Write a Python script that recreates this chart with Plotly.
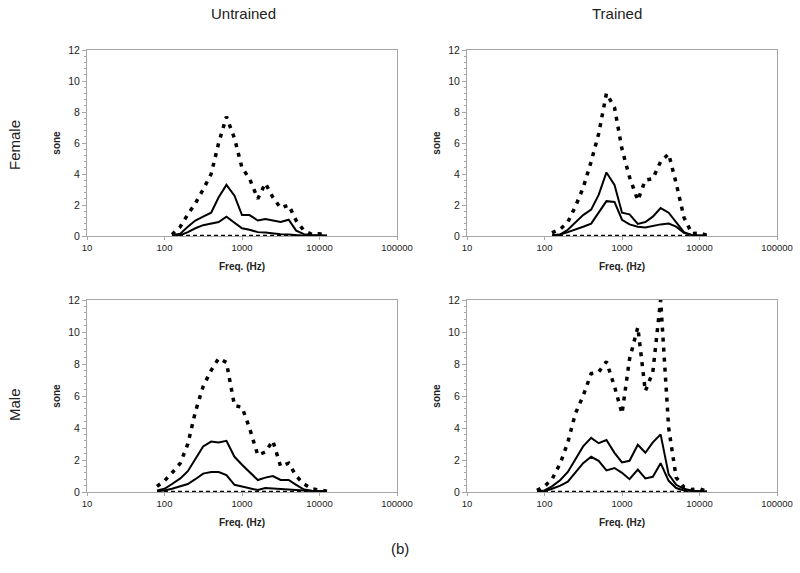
import plotly.graph_objects as go

# Third-octave band centre frequencies (Hz)
freq_f = [125, 160, 200, 250, 315, 400, 500, 630, 800, 1000, 1250, 1600, 2000,
          2500, 3150, 4000, 5000, 6300, 8000, 10000, 12500]
freq_m = [80, 100] + freq_f

# Female, untrained
fu_max = [0.1, 0.6, 1.4, 2.1, 3.0, 4.0, 6.0, 7.7, 6.3, 4.4, 3.7, 2.4, 3.4, 2.5, 1.8, 2.0, 1.0, 0.35, 0.1, 0.15, 0.05]
fu_hi  = [0.05, 0.15, 0.6, 1.0, 1.25, 1.5, 2.5, 3.3, 2.6, 1.35, 1.35, 1.0, 1.1, 1.0, 0.9, 1.05, 0.35, 0.12, 0.05, 0.05, 0.03]
fu_lo  = [0.0, 0.05, 0.25, 0.5, 0.7, 0.8, 0.9, 1.25, 0.85, 0.5, 0.4, 0.25, 0.22, 0.15, 0.12, 0.1, 0.05, 0.02, 0.01, 0.01, 0.0]
fu_min = [0.03] * 21

# Female, trained
ft_max = [0.2, 0.45, 0.9, 1.9, 3.1, 4.8, 6.6, 9.2, 8.3, 5.6, 3.8, 2.3, 3.6, 3.7, 4.8, 5.3, 3.4, 1.2, 0.15, 0.2, 0.05]
ft_hi  = [0.05, 0.1, 0.4, 0.9, 1.35, 1.7, 2.65, 4.1, 3.3, 1.5, 1.4, 0.78, 0.9, 1.25, 1.8, 1.5, 0.85, 0.25, 0.05, 0.03, 0.02]
ft_lo  = [0.02, 0.1, 0.25, 0.4, 0.6, 0.8, 1.5, 2.25, 2.2, 1.05, 0.75, 0.6, 0.55, 0.65, 0.75, 0.8, 0.6, 0.2, 0.05, 0.02, 0.0]
ft_min = [0.03] * 21

# Male, untrained
mu_max = [0.35, 0.7, 1.2, 1.8, 3.0, 5.0, 6.6, 7.6, 8.35, 8.1, 5.4, 5.3, 4.0, 2.3, 2.5, 3.2, 1.6, 1.8, 1.0, 0.5, 0.2, 0.1, 0.05]
mu_hi  = [0.1, 0.2, 0.5, 0.85, 1.3, 2.1, 2.85, 3.15, 3.1, 3.2, 2.2, 1.7, 1.25, 0.75, 0.9, 1.0, 0.75, 0.75, 0.45, 0.15, 0.08, 0.05, 0.05]
mu_lo  = [0.05, 0.1, 0.2, 0.35, 0.5, 0.8, 1.15, 1.25, 1.25, 1.05, 0.45, 0.35, 0.25, 0.12, 0.25, 0.22, 0.15, 0.15, 0.1, 0.05, 0.02, 0.01, 0.0]
mu_min = [0.03] * 23

# Male, trained
mt_max = [0.1, 0.35, 0.8, 1.8, 3.1, 4.9, 6.0, 7.4, 7.5, 8.15, 6.6, 4.9, 8.3, 10.3, 6.3, 7.5, 12.0, 4.0, 0.9, 0.3, 0.15, 0.2, 0.05]
mt_hi  = [0.05, 0.1, 0.35, 0.75, 1.25, 2.0, 2.85, 3.38, 3.05, 3.25, 2.45, 1.85, 1.95, 2.95, 2.45, 3.1, 3.6, 1.1, 0.45, 0.2, 0.08, 0.05, 0.03]
mt_lo  = [0.02, 0.05, 0.2, 0.4, 0.65, 1.2, 1.8, 2.2, 1.95, 1.35, 1.5, 1.2, 0.8, 1.4, 0.85, 0.95, 1.8, 0.7, 0.25, 0.1, 0.05, 0.02, 0.0]
mt_min = [0.03] * 23

col_titles = ["Untrained", "Trained"]
row_titles = ["Female", "Male"]
x_ticks = [10, 100, 1000, 10000, 100000]
x_tick_text = ["10", "100", "1000", "10000", "100000"]

panels = [
    (freq_f, fu_max, fu_hi, fu_lo, fu_min),
    (freq_f, ft_max, ft_hi, ft_lo, ft_min),
    (freq_m, mu_max, mu_hi, mu_lo, mu_min),
    (freq_m, mt_max, mt_hi, mt_lo, mt_min),
]

W, H = 800, 573
xdoms = [(87 / W, 397 / W), (467 / W, 777 / W)]
ydoms = [(1 - 236 / H, 1 - 50 / H), (1 - 492 / H, 1 - 300 / H)]

fig = go.Figure()
font_family = "Liberation Sans, Arial, sans-serif"
gray = "#a6a6a6"

for i, (fr, mx, hi, lo, mn) in enumerate(panels):
    r, c = divmod(i, 2)
    n = i + 1
    xa = "x" if n == 1 else f"x{n}"
    ya = "y" if n == 1 else f"y{n}"
    fig.add_trace(go.Scatter(x=fr, y=mx, mode="lines", xaxis=xa, yaxis=ya,
                             line=dict(color="black", width=3.5, dash="4px,6px"),
                             showlegend=False, hoverinfo="skip"))
    fig.add_trace(go.Scatter(x=fr, y=hi, mode="lines", xaxis=xa, yaxis=ya,
                             line=dict(color="black", width=2),
                             showlegend=False, hoverinfo="skip"))
    fig.add_trace(go.Scatter(x=fr, y=lo, mode="lines", xaxis=xa, yaxis=ya,
                             line=dict(color="black", width=2),
                             showlegend=False, hoverinfo="skip"))
    fig.add_trace(go.Scatter(x=fr, y=mn, mode="lines", xaxis=xa, yaxis=ya,
                             line=dict(color="black", width=1.5, dash="4px,3px"),
                             showlegend=False, hoverinfo="skip"))

    xkey = "xaxis" if n == 1 else f"xaxis{n}"
    ykey = "yaxis" if n == 1 else f"yaxis{n}"
    fig.layout[xkey] = dict(
        type="log", range=[1, 5], domain=xdoms[c], anchor=ya, automargin=False,
        tickvals=x_ticks, ticktext=x_tick_text,
        showgrid=False, zeroline=False,
        showline=True, linecolor=gray, linewidth=1, mirror=True,
        ticks="outside", ticklen=3, tickcolor=gray,
        tickfont=dict(family=font_family, size=9.5, color="#222"),
        title=dict(text="<b>Freq. (Hz)</b>", standoff=10,
                   font=dict(family=font_family, size=10, color="#222")),
    )
    fig.layout[ykey] = dict(
        range=[0, 12], domain=ydoms[r], anchor=xa, automargin=False,
        tickvals=[0, 2, 4, 6, 8, 10, 12],
        showgrid=False, zeroline=False,
        showline=True, linecolor=gray, linewidth=1, mirror=True,
        ticks="outside", ticklen=4, tickcolor=gray,
        minor=dict(dtick=0.4, ticks="outside", ticklen=2, tickcolor=gray, showgrid=False),
        tickfont=dict(family=font_family, size=10.5, color="#222"),
        title=dict(text="<b>sone</b>", standoff=5,
                   font=dict(family=font_family, size=10, color="#222")),
    )

annotations = [
    dict(text=col_titles[0], x=243 / W, y=1 - 14 / H),
    dict(text=col_titles[1], x=617 / W, y=1 - 14 / H),
    dict(text=row_titles[0], x=14 / W, y=1 - 145 / H, textangle=-90),
    dict(text=row_titles[1], x=14 / W, y=1 - 405 / H, textangle=-90),
    dict(text="(b)", x=400 / W, y=1 - 548 / H),
]
for a in annotations:
    a.update(xref="paper", yref="paper", showarrow=False, xanchor="center", yanchor="middle",
             font=dict(family=font_family, size=15, color="#222"))
fig.update_layout(
    width=W, height=H, margin=dict(l=0, r=0, t=0, b=0),
    paper_bgcolor="white", plot_bgcolor="white",
    annotations=annotations, showlegend=False,
)

fig.write_html("out.html", config={"displayModeBar": False},
               post_script="document.body.style.margin='0px';")
